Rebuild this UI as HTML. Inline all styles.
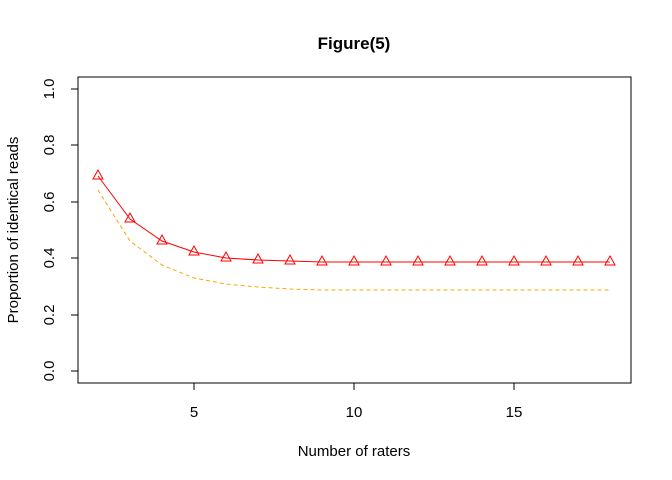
<!DOCTYPE html>
<html><head><meta charset="utf-8"><style>body{margin:0;background:#fff}svg{display:block}</style></head><body>
<svg width="672" height="480" xmlns="http://www.w3.org/2000/svg" font-family="Liberation Sans, Arial, sans-serif">
<rect width="672" height="480" fill="#fff"/>
<text x="354" y="49" font-size="17" font-weight="bold" text-anchor="middle">Figure(5)</text>
<rect x="78" y="77" width="553" height="306" fill="none" stroke="#000" stroke-width="1"/>
<g stroke="#000" stroke-width="1">
<line x1="194" y1="383" x2="514" y2="383"/>
<line x1="194" y1="383" x2="194" y2="390"/><line x1="354" y1="383" x2="354" y2="390"/><line x1="514" y1="383" x2="514" y2="390"/>
<line x1="78" y1="89" x2="78" y2="371"/>
<line x1="78" y1="371" x2="71" y2="371"/><line x1="78" y1="315" x2="71" y2="315"/><line x1="78" y1="258" x2="71" y2="258"/><line x1="78" y1="202" x2="71" y2="202"/><line x1="78" y1="145" x2="71" y2="145"/><line x1="78" y1="89" x2="71" y2="89"/>
</g>
<g font-size="15" text-anchor="middle">
<text x="194" y="417">5</text><text x="354" y="417">10</text><text x="514" y="417">15</text>
<text x="354" y="456">Number of raters</text>
</g>
<g font-size="15" text-anchor="middle">
<text transform="translate(54,371) rotate(-90)">0.0</text>
<text transform="translate(54,315) rotate(-90)">0.2</text>
<text transform="translate(54,258) rotate(-90)">0.4</text>
<text transform="translate(54,202) rotate(-90)">0.6</text>
<text transform="translate(54,145) rotate(-90)">0.8</text>
<text transform="translate(54,89) rotate(-90)">1.0</text>
<text transform="translate(18,230) rotate(-90)">Proportion of identical reads</text>
</g>
<polyline fill="none" stroke="orange" stroke-width="1" stroke-dasharray="4,3" points="98,190 130,241 162,265 194,278 226,284 258,287 290,289 322,290 354,290 386,290 418,290 450,290 482,290 514,290 546,290 578,290 610,290"/>
<polyline fill="none" stroke="red" stroke-width="1" points="98,176 130,219 162,241 194,252 226,258 258,260 290,261 322,262 354,262 386,262 418,262 450,262 482,262 514,262 546,262 578,262 610,262"/>
<g fill="none" stroke="red" stroke-width="1">
<path d="M98,170 l5,9 h-10 z"/><path d="M130,213 l5,9 h-10 z"/><path d="M162,235 l5,9 h-10 z"/><path d="M194,246 l5,9 h-10 z"/><path d="M226,252 l5,9 h-10 z"/><path d="M258,254 l5,9 h-10 z"/><path d="M290,255 l5,9 h-10 z"/><path d="M322,256 l5,9 h-10 z"/><path d="M354,256 l5,9 h-10 z"/><path d="M386,256 l5,9 h-10 z"/><path d="M418,256 l5,9 h-10 z"/><path d="M450,256 l5,9 h-10 z"/><path d="M482,256 l5,9 h-10 z"/><path d="M514,256 l5,9 h-10 z"/><path d="M546,256 l5,9 h-10 z"/><path d="M578,256 l5,9 h-10 z"/><path d="M610,256 l5,9 h-10 z"/>
</g>
</svg>
</body></html>
